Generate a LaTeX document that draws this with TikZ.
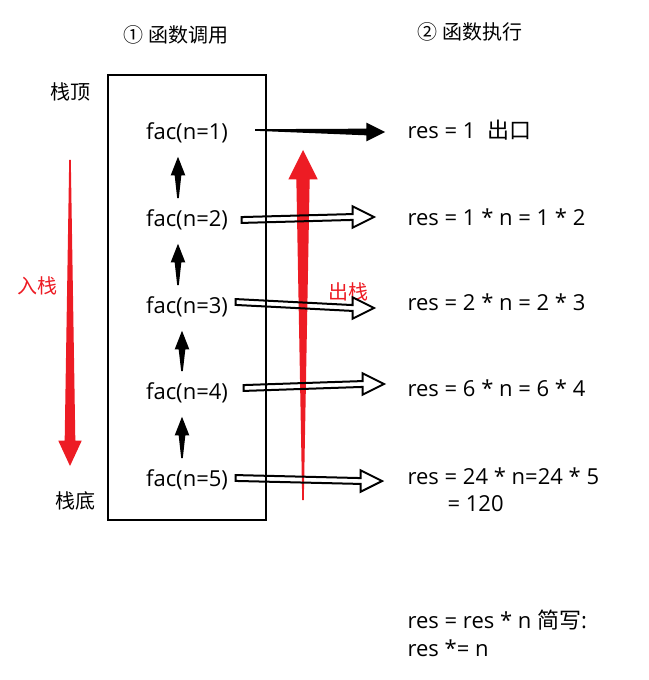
\documentclass[tikz,border=0pt]{standalone}
\usepackage{fontspec}
\setmainfont{Open Sans}
\newfontfamily\cjk{Noto Sans CJK SC}
\usetikzlibrary{positioning,calc}

\definecolor{stackred}{RGB}{237,28,36}
\tikzset{
  label/.style={inner sep=1pt, font=\fontsize{16.5}{19}\selectfont},
  cjklabel/.style={inner sep=1pt, font=\cjk\fontsize{15}{18}\selectfont},
  reslabel/.style={label, anchor=west},
}
% tapered arrow from #2 to #3 (horizontal)
\newcommand{\wedgeright}[3]{\fill[#1] let \p1=(#2), \p2=(#3) in
  (\x1,\y1+0.6) -- (\x2-14,\y2+2.5) -- (\x2-14,\y2+7) -- (\x2,\y2)
  -- (\x2-14,\y2-7) -- (\x2-14,\y2-2.5) -- (\x1,\y1-0.6) -- cycle;}
% tapered arrow from #2 to #3 (vertical), #4 = half width of shaft end, #5 = head length
\newcommand{\wedgevert}[5]{\fill[#1] let \p1=(#2), \p2=(#3) in
  (\x1-0.6,\y1) -- (\x2-#4,\y2-#5) -- (\x2-2.2*#4,\y2-#5) -- (\x2,\y2)
  -- (\x2+2.2*#4,\y2-#5) -- (\x2+#4,\y2-#5) -- (\x1+0.6,\y1) -- cycle;}
% hollow arrow from #1 to #2
\newcommand{\hollowright}[2]{\draw[line width=1.5pt, line join=miter] let \p1=(#1), \p2=(#2) in
  (\x1,\y1+2.2) -- (\x2-16,\y2+2.2) -- (\x2-16,\y2+8) -- (\x2,\y2)
  -- (\x2-16,\y2-8) -- (\x2-16,\y2-2.2) -- (\x1,\y1-2.2) -- cycle;}

\begin{document}
\begin{tikzpicture}[x=0.75pt, y=-0.75pt]
    \useasboundingbox (0,0) rectangle (648,680);
    % Titles
    \node [cjklabel] (call) at (176,35) {① 函数调用};
    \node [cjklabel] (exec) at (470,32) {② 函数执行};

    % Stack box
    \draw [line width=1pt] (108,75) rectangle (266,520);
    \node [cjklabel] (top) at (70,92) {栈顶};
    \node [cjklabel] (bottom) at (75,501) {栈底};
    \node [cjklabel, text=stackred] (push) at (37,286) {入栈};
    \node [cjklabel, text=stackred] (pop) at (348,292) {出栈};

    % Frames
    \node [label] (fac1) at (187,133) {fac(n=1)};
    \node [label] (fac2) at (187,220) {fac(n=2)};
    \node [label] (fac3) at (187,307) {fac(n=3)};
    \node [label] (fac4) at (187,393) {fac(n=4)};
    \node [label] (fac5) at (187,480) {fac(n=5)};

    % Results
    \node [reslabel] (res1) at (406,130) {res = 1 \ {\cjk 出口}};
    \node [reslabel] (res2) at (406,217) {res = 1 * n = 1 * 2};
    \node [reslabel] (res3) at (406,302) {res = 2 * n = 2 * 3};
    \node [reslabel] (res4) at (406,388) {res = 6 * n = 6 * 4};
    \node [reslabel] (res5) at (406,476) {res = 24 * n=24 * 5};
    \node [reslabel] (res5b) at (446,504) {= 120};
    \node [reslabel] (note1) at (406,620) {res = res * n {\cjk 简写}:};
    \node [reslabel] (note2) at (406,648) {res *= n};

    % Red arrows
    \coordinate (pushA) at (70,160);
    \coordinate (pushB) at (70,466);
    \coordinate (popA) at (303,500);
    \coordinate (popB) at (303,150);
    \wedgevert{stackred}{pushA}{pushB}{4}{-19}
    \wedgevert{stackred}{popA}{popB}{5}{22}

    % Black up arrows
    \wedgevert{black}{$(fac2.north)+(-9,-10)$}{$(fac1.south)+(-9,12)$}{2.5}{14}
    \wedgevert{black}{$(fac3.north)+(-9,-10)$}{$(fac2.south)+(-9,12)$}{2.5}{14}
    \wedgevert{black}{$(fac4.north)+(-5,-10)$}{$(fac3.south)+(-5,12)$}{2.5}{14}
    \wedgevert{black}{$(fac5.north)+(-5,-10)$}{$(fac4.south)+(-5,12)$}{2.5}{14}

    % Calls
    \coordinate (out1) at (255,130);
    \coordinate (in1) at (385,132);
    \wedgeright{black}{out1}{in1}
    \hollowright{$(fac2.east)+(12,0)$}{$(res2.west)+(-32,0)$}
    \hollowright{$(fac3.east)+(6,-5)$}{$(res3.west)+(-32,6)$}
    \hollowright{$(fac4.east)+(14,-5)$}{$(res4.west)+(-22,-4)$}
    \hollowright{$(fac5.east)+(6,-2)$}{$(res5.west)+(-24,5)$}
\end{tikzpicture}
\end{document}
